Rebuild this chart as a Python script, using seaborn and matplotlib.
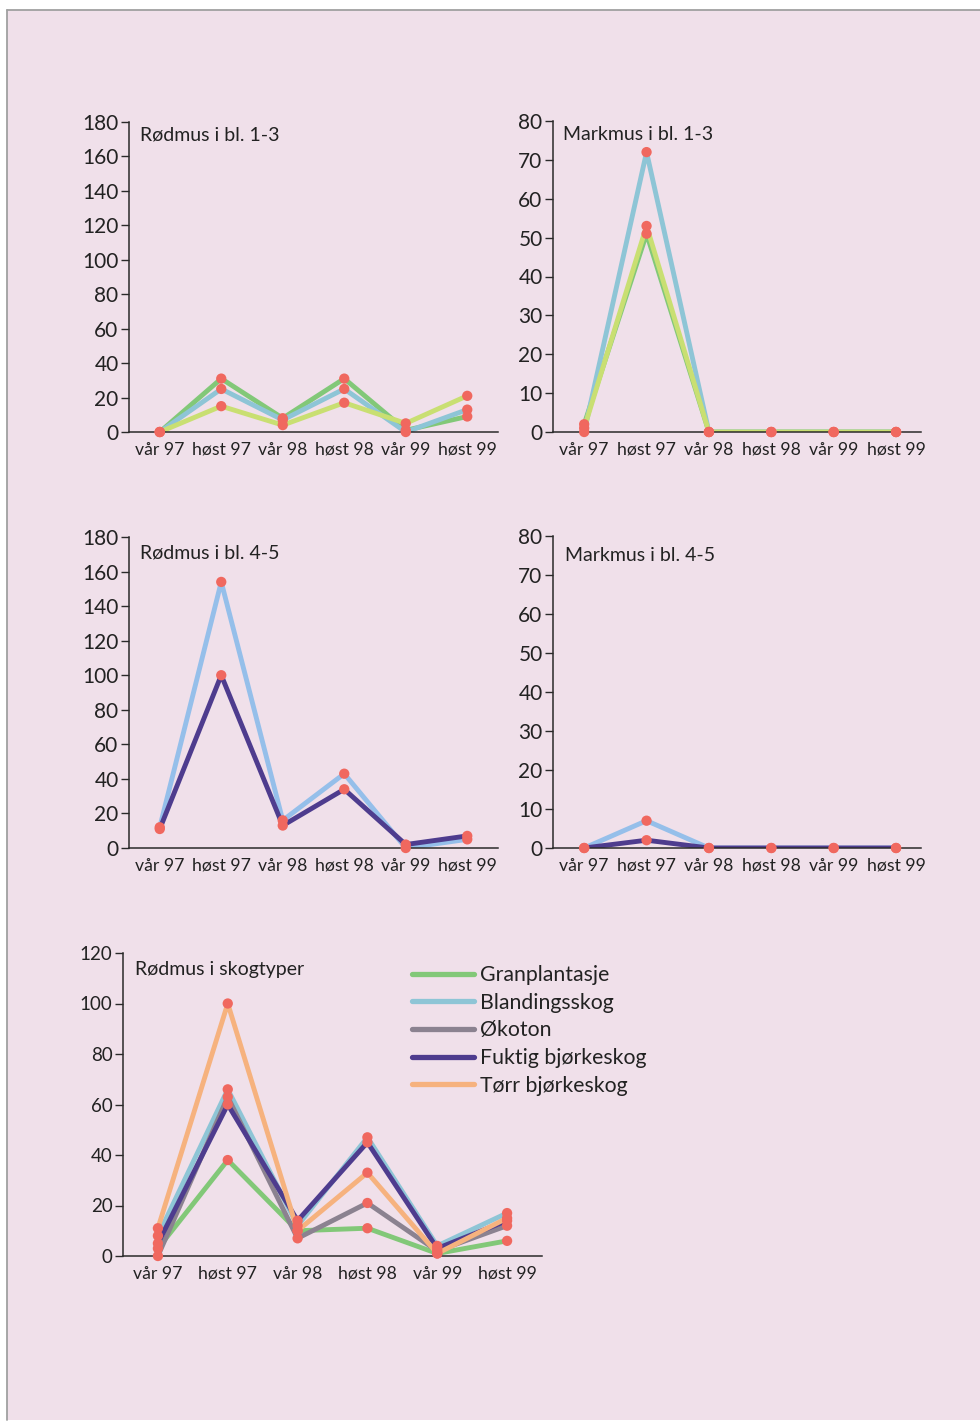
import numpy as np
import pandas as pd
import matplotlib
matplotlib.use("Agg")
import matplotlib.pyplot as plt
from matplotlib.lines import Line2D
from matplotlib.patches import Rectangle
import seaborn as sns

# ---------------- data ----------------
seasons = ["vår 97", "høst 97", "vår 98", "høst 98", "vår 99", "høst 99"]

# Rødmus i bl. 1-3
rodmus_bl13_a = [0, 31, 8, 31, 1, 9]
rodmus_bl13_b = [0, 25, 7, 25, 0, 13]
rodmus_bl13_c = [0, 15, 4, 17, 5, 21]

# Markmus i bl. 1-3
markmus_bl13_a = [2, 51, 0, 0, 0, 0]
markmus_bl13_b = [0, 72, 0, 0, 0, 0]
markmus_bl13_c = [1, 53, 0, 0, 0, 0]

# Rødmus i bl. 4-5
rodmus_bl45_a = [12, 154, 16, 43, 0, 5]
rodmus_bl45_b = [11, 100, 13, 34, 2, 7]

# Markmus i bl. 4-5
markmus_bl45_a = [0, 7, 0, 0, 0, 0]
markmus_bl45_b = [0, 2, 0, 0, 0, 0]

# Rødmus i skogtyper
forest_types = ["Granplantasje", "Blandingsskog", "Økoton", "Fuktig bjørkeskog", "Tørr bjørkeskog"]
granplantasje = [3, 38, 10, 11, 1, 6]
blandingsskog = [8, 66, 12, 47, 4, 17]
okoton = [0, 63, 7, 21, 2, 12]
fuktig = [5, 60, 14, 45, 3, 14]
torr = [11, 100, 10, 33, 1, 15]

titles = ["Rødmus i bl. 1-3", "Markmus i bl. 1-3", "Rødmus i bl. 4-5",
          "Markmus i bl. 4-5", "Rødmus i skogtyper"]

# ---------------- style ----------------
GREEN = "#82c878"
TEAL = "#8ec5d6"
YGREEN = "#c9df72"
LBLUE = "#95bfea"
PURPLE = "#4e3c8e"
GREY = "#8b8290"
ORANGE = "#f6b27e"
DOT = "#f0685f"
BG = "#f0e0ea"

sns.set_style("ticks")
plt.rcParams["font.family"] = ["Lato", "DejaVu Sans"]
plt.rcParams["axes.facecolor"] = "none"

W, H = 980, 1425
fig = plt.figure(figsize=(W / 100, H / 100), dpi=100)
fig.patch.set_facecolor("white")
fig.patches.append(Rectangle((7 / W, 5 / H), 1 - 7 / W, 1 - 15 / H, transform=fig.transFigure,
                             facecolor=BG, edgecolor="none", zorder=-10))
fig.lines.append(Line2D([7 / W, 1], [1 - 10 / H, 1 - 10 / H], transform=fig.transFigure,
                        color="#a0a0a0", lw=1.3, zorder=-9))
fig.lines.append(Line2D([7 / W, 7 / W], [5 / H, 1 - 10 / H], transform=fig.transFigure,
                        color="#a0a0a0", lw=1.3, zorder=-9))


def make_ax(l, r, t, b):
    return fig.add_axes([l / W, 1 - b / H, (r - l) / W, (b - t) / H])


def long_df(names, arrays):
    rows = []
    for n, arr in zip(names, arrays):
        for s, v in zip(seasons, arr):
            rows.append({"season": s, "value": v, "series": n})
    return pd.DataFrame(rows)


def draw(ax, names, arrays, colors, ylim, yticks, title, tx, ty, xmax=5.5,
         ytick_fs=15, xtick_fs=12.7):
    df = long_df(names, arrays)
    sns.lineplot(data=df, x="season", y="value", hue="series", hue_order=names,
                 palette=dict(zip(names, colors)), linewidth=3.5, sort=False,
                 legend=False, ax=ax, zorder=2)
    sns.scatterplot(data=df, x="season", y="value", color=DOT, s=55,
                    edgecolor="none", legend=False, ax=ax, zorder=3, clip_on=False)
    ax.set_xlim(-0.5, xmax)
    ax.set_ylim(*ylim)
    ax.set_yticks(yticks)
    ax.set_xlabel("")
    ax.set_ylabel("")
    for sp in ["top", "right"]:
        ax.spines[sp].set_visible(False)
    for sp in ["left", "bottom"]:
        ax.spines[sp].set_color("#2a2a2a")
        ax.spines[sp].set_linewidth(1.1)
    ax.tick_params(axis="y", direction="out", length=6, width=1, pad=1.5,
                   labelsize=ytick_fs, colors="#2a2a2a", labelcolor="#222222")
    ax.tick_params(axis="x", length=0, pad=7, labelsize=xtick_fs, labelcolor="#222222")
    ax.text(tx, ty, title, transform=ax.transAxes, fontsize=14, va="center",
            ha="left", color="#222222")


ax1 = make_ax(129, 498, 122, 432)
draw(ax1, ["a", "b", "c"], [rodmus_bl13_a, rodmus_bl13_b, rodmus_bl13_c],
     [GREEN, TEAL, YGREEN], (0, 180), range(0, 181, 20), titles[0], 0.03, 0.958)

ax2 = make_ax(553, 921, 121, 432)
draw(ax2, ["a", "b", "c"], [markmus_bl13_a, markmus_bl13_b, markmus_bl13_c],
     [GREEN, TEAL, YGREEN], (0, 80), range(0, 81, 10), titles[1], 0.027, 0.955, xmax=5.4)

ax3 = make_ax(129, 498, 537, 848)
draw(ax3, ["a", "b"], [rodmus_bl45_a, rodmus_bl45_b],
     [LBLUE, PURPLE], (0, 180), range(0, 181, 20), titles[2], 0.03, 0.949)

ax4 = make_ax(553, 921, 536, 848)
draw(ax4, ["a", "b"], [markmus_bl45_a, markmus_bl45_b],
     [LBLUE, PURPLE], (0, 80), range(0, 81, 10), titles[3], 0.033, 0.939, xmax=5.4)

ax5 = make_ax(123, 542, 953, 1256)
skog_colors = [GREEN, TEAL, GREY, PURPLE, ORANGE]
draw(ax5, forest_types, [granplantasje, blandingsskog, okoton, fuktig, torr],
     skog_colors, (0, 120), range(0, 121, 20), titles[4], 0.029, 0.947,
     ytick_fs=13.5, xtick_fs=12.7)

handles = [Line2D([0], [0], color=c, lw=3.8) for c in skog_colors]
fig.legend(handles, forest_types, loc="upper left",
           bbox_to_anchor=(412 / W, 1 - 965 / H), bbox_transform=fig.transFigure,
           frameon=False, fontsize=15.3, handlelength=2.9, handletextpad=0.3,
           labelspacing=0.36, borderpad=0, borderaxespad=0, labelcolor="#222222")

fig.savefig("out.png", dpi=100, facecolor=fig.get_facecolor())
